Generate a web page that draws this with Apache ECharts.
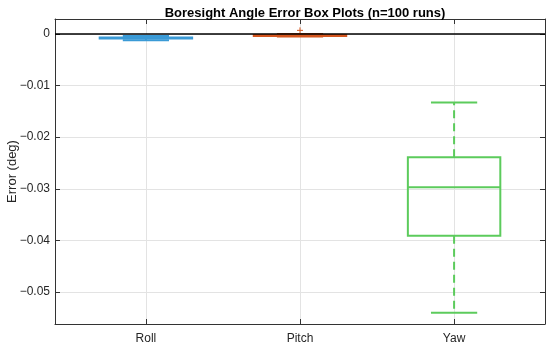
<!DOCTYPE html>
<html>
<head>
<meta charset="utf-8">
<script src="https://cdn.jsdelivr.net/npm/echarts@6/dist/echarts.min.js"></script>
<style>
  html, body { margin: 0; padding: 0; background: #fff; }
  #chart { width: 550px; height: 347px; }
</style>
</head>
<body>
<div id="chart"></div>
<script>
// box plot data (deg)
const categories = ['Roll', 'Pitch', 'Yaw']
const whiskerLow = [-0.0012, -0.0005, -0.0540]
const q1 = [-0.0009, -0.0004, -0.0391]
const median = [-0.0008, -0.0003, -0.0297]
const q3 = [-0.0007, -0.0002, -0.0239]
const whiskerHigh = [-0.0004, 0.0000, -0.0133]
// outliers as [category index, value]
const outliers = [[1, 0.0007]]
const yTicks = [0, -0.01, -0.02, -0.03, -0.04, -0.05]
const xTicks = [1, 2, 3]

const boxColors = ['#3a9ad6', '#d4561f', '#5ccb5c']
const axisColor = '#333333'
const gridColor = '#e3e3e3'
const font = 'Liberation Sans, Arial, Helvetica, sans-serif'

const fmtY = (v) => (v === 0 ? '0' : (v < 0 ? '\u2212' : '') + Math.abs(v).toFixed(2))

const myEchart = echarts.init(document.getElementById('chart'), null, { renderer: 'canvas' })

const renderBox = (params, api) => {
  const i = params.dataIndex
  const x = api.value(0)
  const color = boxColors[i]
  const half = api.size([0.6, 0])[0] / 2
  const capHalf = api.size([0.3, 0])[0] / 2
  const pLow = api.coord([x, api.value(1)])
  const pQ1 = api.coord([x, api.value(2)])
  const pMed = api.coord([x, api.value(3)])
  const pQ3 = api.coord([x, api.value(4)])
  const pHigh = api.coord([x, api.value(5)])
  const cx = pMed[0]
  const solid = { stroke: color, lineWidth: 2, fill: null }
  const dashed = { stroke: color, lineWidth: 2, lineDash: [8, 5], fill: null }
  return {
    type: 'group',
    children: [
      { type: 'line', shape: { x1: cx, y1: pQ3[1], x2: cx, y2: pHigh[1] }, style: dashed },
      { type: 'line', shape: { x1: cx, y1: pQ1[1], x2: cx, y2: pLow[1] }, style: dashed },
      { type: 'line', shape: { x1: cx - capHalf, y1: pHigh[1], x2: cx + capHalf, y2: pHigh[1] }, style: solid },
      { type: 'line', shape: { x1: cx - capHalf, y1: pLow[1], x2: cx + capHalf, y2: pLow[1] }, style: solid },
      {
        type: 'rect',
        shape: { x: cx - half, y: pQ3[1], width: half * 2, height: pQ1[1] - pQ3[1] },
        style: solid
      },
      { type: 'line', shape: { x1: cx - half, y1: pMed[1], x2: cx + half, y2: pMed[1] }, style: solid }
    ]
  }
}

const renderOutlier = (params, api) => {
  const p = api.coord([api.value(0), api.value(1)])
  const idx = api.value(0) - 1
  const s = 3
  const st = { stroke: boxColors[idx], lineWidth: 1 }
  return {
    type: 'group',
    children: [
      { type: 'line', shape: { x1: p[0] - s, y1: p[1], x2: p[0] + s, y2: p[1] }, style: st },
      { type: 'line', shape: { x1: p[0], y1: p[1] - s, x2: p[0], y2: p[1] + s }, style: st }
    ]
  }
}

const xBase = {
  type: 'value',
  min: 0.41,
  max: 3.59,
  axisLine: { show: true, onZero: false, lineStyle: { color: axisColor, width: 1 } },
  axisTick: { show: true, inside: true, length: 5, customValues: xTicks, lineStyle: { color: axisColor } },
  splitLine: { show: false }
}
const yBase = {
  type: 'value',
  min: -0.0562,
  max: 0.0029,
  axisLine: { show: true, onZero: false, lineStyle: { color: axisColor, width: 1 } },
  axisTick: { show: true, inside: true, length: 5, customValues: yTicks, lineStyle: { color: axisColor } },
  splitLine: { show: false }
}

const option = {
  animation: false,
  backgroundColor: '#ffffff',
  title: {
    text: 'Boresight Angle Error Box Plots (n=100 runs)',
    left: 300,
    textAlign: 'center',
    top: 2,
    textStyle: { fontFamily: font, fontSize: 13, fontWeight: 'bold', color: '#000' }
  },
  grid: { left: 55, right: 5, top: 19, bottom: 23, containLabel: false, outerBoundsMode: 'none' },
  xAxis: [
    {
      ...xBase,
      position: 'bottom',
      splitLine: { show: true, lineStyle: { color: gridColor, width: 1 } },
      axisLabel: {
        show: true,
        customValues: xTicks,
        formatter: (v) => categories[Math.round(v) - 1] || '',
        margin: 9,
        fontFamily: font,
        fontSize: 12,
        color: '#262626'
      }
    },
    { ...xBase, position: 'top', axisLabel: { show: false } }
  ],
  yAxis: [
    {
      ...yBase,
      position: 'left',
      name: 'Error (deg)',
      nameLocation: 'middle',
      nameGap: 36,
      nameMoveOverlap: false,
      nameTextStyle: { fontFamily: font, fontSize: 13, color: '#262626' },
      splitLine: { show: true, lineStyle: { color: gridColor, width: 1 } },
      axisLabel: {
        show: true,
        customValues: yTicks,
        formatter: fmtY,
        margin: 5,
        fontFamily: font,
        fontSize: 12,
        color: '#262626'
      }
    },
    { ...yBase, position: 'right', axisLabel: { show: false } }
  ],
  series: [
    {
      // zero reference line
      type: 'line',
      data: [],
      markLine: {
        silent: true,
        symbol: 'none',
        label: { show: false },
        lineStyle: { color: '#000', width: 1.5, type: 'solid' },
        data: [{ yAxis: 0 }]
      }
    },
    {
      type: 'custom',
      renderItem: renderBox,
      encode: { x: 0, y: [1, 2, 3, 4, 5] },
      data: categories.map((c, i) => [i + 1, whiskerLow[i], q1[i], median[i], q3[i], whiskerHigh[i]]),
      z: 3
    },
    {
      type: 'custom',
      renderItem: renderOutlier,
      encode: { x: 0, y: 1 },
      data: outliers.map((o) => [o[0] + 1, o[1]]),
      z: 4
    }
  ]
}

myEchart.setOption(option, { notMerge: true })
</script>
</body>
</html>
